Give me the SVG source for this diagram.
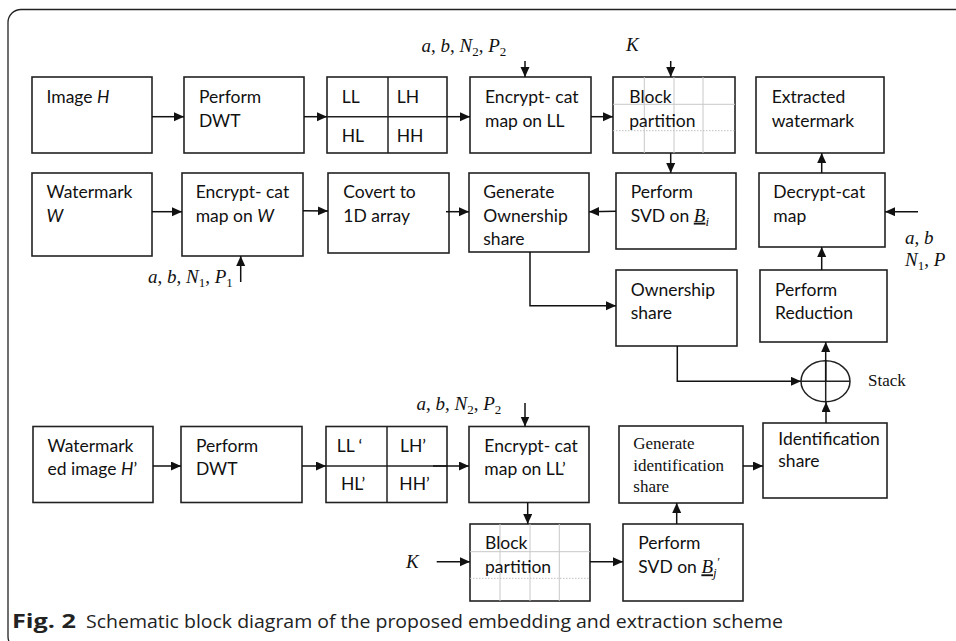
<svg xmlns="http://www.w3.org/2000/svg" width="956" height="641" viewBox="0 0 956 641">
<defs>
<marker id="ah" markerUnits="userSpaceOnUse" markerWidth="11" markerHeight="10" refX="10" refY="4.5" orient="auto">
<path d="M0,0 L10,4.5 L0,9 z" fill="#111"/>
</marker>
<style>
.b{fill:#fff;stroke:#222;stroke-width:1.6}
.g{stroke:#c8c8c8;stroke-width:1;fill:none}
.gd{stroke:#c0c0c0;stroke-width:1;stroke-dasharray:1.5 1.5;fill:none}
.t{font-family:Lato,"Liberation Sans",sans-serif;font-size:17.5px;fill:#111}
.s{font-family:"Liberation Serif",serif;font-size:17px;fill:#111}
.m{font-family:"Liberation Serif",serif;font-size:19px;fill:#111;font-style:italic}
.n{font-style:normal}
.sub{font-size:13px}
.c line,.c path{stroke:#111;stroke-width:1.5;fill:none;marker-end:url(#ah)}
.cap{font-family:"Open Sans","Liberation Sans",sans-serif;font-size:19px;fill:#222}
</style>
</defs>
<rect x="8" y="9.5" width="1000" height="640" rx="13" fill="none" stroke="#222" stroke-width="1.3"/>

<g id="imageH"><rect class="b" x="32" y="77" width="120" height="76"/><text class="t" x="46.5" y="103.3">Image <tspan font-style="italic">H</tspan></text></g>
<g id="dwt1"><rect class="b" x="184" y="77" width="120" height="76"/><text class="t" x="199" y="103.3">Perform</text><text class="t" x="199" y="126.7">DWT</text></g>
<g id="sub1"><rect class="b" x="327" y="77" width="120" height="76"/><line x1="388" y1="77" x2="388" y2="153" stroke="#222" stroke-width="1.5"/><line x1="327" y1="116.7" x2="447" y2="116.7" stroke="#222" stroke-width="1.5"/>
<text class="t" x="341.7" y="102.7">LL</text><text class="t" x="396.7" y="102.7">LH</text><text class="t" x="341.7" y="141.7">HL</text><text class="t" x="396.7" y="141.7">HH</text></g>
<g id="encLL"><rect class="b" x="470" y="77" width="121" height="76"/><text class="t" x="485" y="103.3">Encrypt- cat</text><text class="t" x="485" y="126.7">map on LL</text></g>
<g id="block1"><rect class="b" x="613" y="77" width="122" height="76"/>
<path class="g" d="M644.3,77V153M674,77V153M703,77V153M613,104.3H735"/><path class="gd" d="M613,130.7H735"/>
<text class="t" x="629.3" y="103.3">Block</text><text class="t" x="629.3" y="126.7">partition</text></g>
<g id="extracted"><rect class="b" x="756" y="77" width="128" height="76"/><text class="t" x="771.7" y="103.3">Extracted</text><text class="t" x="771.7" y="126.7">watermark</text></g>

<g id="wmW"><rect class="b" x="32" y="173" width="120" height="83"/><text class="t" x="46.5" y="198.3">Watermark</text><text class="t" x="46.5" y="221.7" font-style="italic">W</text></g>
<g id="encW"><rect class="b" x="182" y="173" width="121" height="83"/><text class="t" x="195.7" y="198.3">Encrypt- cat</text><text class="t" x="195.7" y="221.7">map on <tspan font-style="italic">W</tspan></text></g>
<g id="covert"><rect class="b" x="328" y="173" width="121" height="80"/><text class="t" x="343.3" y="198.3">Covert to</text><text class="t" x="343.3" y="221.7">1D array</text></g>
<g id="genOwn"><rect class="b" x="469" y="173" width="120" height="79"/><text class="t" x="483.3" y="198.3">Generate</text><text class="t" x="483.3" y="221.7">Ownership</text><text class="t" x="483.3" y="245">share</text></g>
<g id="svd1"><rect class="b" x="616" y="173" width="120" height="76"/><text class="t" x="630.7" y="198.3">Perform</text><text class="t" x="630.7" y="221.7">SVD on <tspan class="m" text-decoration="underline">B</tspan><tspan class="m sub" dy="4">i</tspan></text></g>
<g id="decrypt"><rect class="b" x="759" y="173" width="126" height="74"/><text class="t" x="773.3" y="198.3">Decrypt-cat</text><text class="t" x="773.3" y="221.7">map</text></g>
<g id="ownShare"><rect class="b" x="616" y="270" width="121" height="76"/><text class="t" x="630.7" y="296">Ownership</text><text class="t" x="630.7" y="319">share</text></g>
<g id="reduction"><rect class="b" x="760" y="270" width="127" height="72"/><text class="t" x="775" y="296">Perform</text><text class="t" x="775" y="319">Reduction</text></g>
<g id="stack"><ellipse cx="825.5" cy="381.3" rx="24.5" ry="20.5" fill="#fff" stroke="#222" stroke-width="1.5"/><line x1="801" y1="381.3" x2="850" y2="381.3" stroke="#222" stroke-width="1.5"/><line x1="825.7" y1="360.8" x2="825.7" y2="401.8" stroke="#222" stroke-width="1.5"/>
<text class="s" x="868" y="385.5" font-size="18.5">Stack</text></g>

<g id="wmH"><rect class="b" x="33" y="426.5" width="120" height="76"/><text class="t" x="47.5" y="451.7">Watermark</text><text class="t" x="47.5" y="475">ed image <tspan font-style="italic">H</tspan>’</text></g>
<g id="dwt2"><rect class="b" x="181" y="426.5" width="121" height="76"/><text class="t" x="196" y="451.7">Perform</text><text class="t" x="196" y="475">DWT</text></g>
<g id="sub2"><rect class="b" x="326" y="426.5" width="121" height="76"/><line x1="387" y1="426.5" x2="387" y2="502.5" stroke="#222" stroke-width="1.5"/><line x1="326" y1="466" x2="447" y2="466" stroke="#222" stroke-width="1.5"/>
<text class="t" x="336.7" y="451.7">LL ‘</text><text class="t" x="400" y="451.7">LH’</text><text class="t" x="341" y="490">HL’</text><text class="t" x="399.3" y="490">HH’</text></g>
<g id="encLL2"><rect class="b" x="469" y="426.5" width="120" height="76"/><text class="t" x="484.3" y="451.7">Encrypt- cat</text><text class="t" x="484.3" y="475">map on LL’</text></g>
<g id="block2"><rect class="b" x="470" y="524" width="120" height="77"/>
<path class="g" d="M500,524V601M530,524V601M559.3,524V601M470,551.7H590"/><path class="gd" d="M470,578.3H590"/>
<text class="t" x="485" y="549.3">Block</text><text class="t" x="485" y="573.3">partition</text></g>
<g id="svd2"><rect class="b" x="623" y="524" width="120" height="77"/><text class="t" x="638.3" y="573.3">SVD on <tspan class="m" text-decoration="underline">B</tspan><tspan class="m sub" dy="4">j</tspan><tspan class="m sub" dy="-11">′</tspan></text><text class="t" x="638.3" y="549.3">Perform</text></g>
<g id="genId"><rect class="b" x="619" y="426" width="124" height="77"/><text class="s" x="633.3" y="449.3">Generate</text><text class="s" x="633.3" y="470.7">identification</text><text class="s" x="633.3" y="491.7">share</text></g>
<g id="idShare"><rect class="b" x="763" y="423" width="124" height="75"/><text class="t" x="778.3" y="445">Identification</text><text class="t" x="778.3" y="467.3">share</text></g>

<g id="labels">
<text class="m" x="421.5" y="52">a<tspan class="n">, </tspan>b<tspan class="n">, </tspan>N<tspan class="sub n" dy="4">2</tspan><tspan class="n" dy="-4">, </tspan>P<tspan class="sub n" dy="4">2</tspan></text>
<text class="m" x="626" y="51">K</text>
<text class="m" x="148" y="283">a<tspan class="n">, </tspan>b<tspan class="n">, </tspan>N<tspan class="sub n" dy="4">1</tspan><tspan class="n" dy="-4">, </tspan>P<tspan class="sub n" dy="4">1</tspan></text>
<text class="m" x="905" y="244">a<tspan class="n">, </tspan>b</text>
<text class="m" x="905" y="266">N<tspan class="sub n" dy="4">1</tspan><tspan class="n" dy="-4">, </tspan>P</text>
<text class="m" x="416.5" y="410">a<tspan class="n">, </tspan>b<tspan class="n">, </tspan>N<tspan class="sub n" dy="4">2</tspan><tspan class="n" dy="-4">, </tspan>P<tspan class="sub n" dy="4">2</tspan></text>
<text class="m" x="406" y="568">K</text>
</g>

<g id="connectors" class="c">
<line x1="152" y1="116.7" x2="184" y2="116.7"/>
<line x1="304" y1="116.7" x2="327" y2="116.7"/>
<line x1="447" y1="116.7" x2="470" y2="116.7"/>
<line x1="525" y1="61" x2="525" y2="77"/>
<line x1="591" y1="116.7" x2="613" y2="116.7"/>
<line x1="670.7" y1="61" x2="670.7" y2="77"/>
<line x1="670.7" y1="153" x2="670.7" y2="173"/>
<line x1="821.7" y1="173" x2="821.7" y2="153"/>
<line x1="152" y1="211.7" x2="182" y2="211.7"/>
<line x1="303" y1="210.7" x2="328" y2="211"/>
<line x1="240.7" y1="282" x2="240.7" y2="256"/>
<line x1="446" y1="211.7" x2="469" y2="211.7"/>
<line x1="616" y1="211.3" x2="589" y2="211.7"/>
<line x1="918" y1="211.7" x2="885" y2="211.7"/>
<line x1="821.7" y1="270" x2="821.7" y2="247"/>
<path d="M530,252V305.7H616"/>
<path d="M677.3,346V381.3H801"/>
<line x1="825.7" y1="381.3" x2="825.7" y2="342"/>
<line x1="826" y1="423" x2="826" y2="402"/>
<line x1="153" y1="466" x2="181" y2="466"/>
<line x1="302" y1="466" x2="326" y2="466"/>
<line x1="433" y1="466" x2="469" y2="466"/>
<line x1="525" y1="403" x2="525" y2="426.5"/>
<line x1="527.7" y1="502.5" x2="527.7" y2="524"/>
<line x1="436.7" y1="561.7" x2="470" y2="561.7"/>
<line x1="590" y1="561.7" x2="623" y2="561.7"/>
<line x1="676.7" y1="524" x2="676.7" y2="503"/>
<line x1="743" y1="466" x2="763" y2="466"/>
</g>

<g id="caption"><text class="cap" x="12" y="628" font-weight="bold" textLength="64" lengthAdjust="spacingAndGlyphs">Fig. 2</text><text class="cap" x="86" y="628" textLength="697" lengthAdjust="spacingAndGlyphs">Schematic block diagram of the proposed embedding and extraction scheme</text></g>
</svg>
